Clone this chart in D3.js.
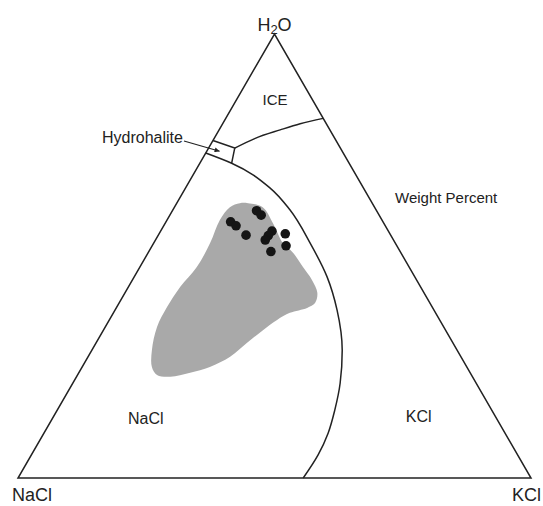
<!DOCTYPE html>
<html>
<head>
<meta charset="utf-8">
<script src="https://cdn.jsdelivr.net/npm/d3@7"></script>
<style>
  body { margin: 0; background: #fff; }
  text { font-family: "Liberation Sans", Arial, sans-serif; fill: #222; }
</style>
</head>
<body>
<div id="chart"></div>
<script>
// ternary data, weight percent [H2O, NaCl, KCl]
var corners = ["NaCl", "KCl", "H2O"];

var iceCurve = [
    [74.3, 20.6, 5.1], [76.5, 15.5, 8.0], [78.4, 9.7, 11.9],
    [79.8, 5.1, 15.1], [81.0, 0.0, 19.0]
];

var hydrohaliteBox = [
    [73.2, 26.8, 0.0], [76.0, 24.0, 0.0], [74.3, 20.6, 5.1], [70.9, 22.9, 6.2]
];

var saltCurve = [
    [73.2, 26.8, 0.0], [70.9, 22.9, 6.2], [65.3, 18.2, 16.5], [60.4, 16.8, 22.8],
    [52.9, 16.6, 30.5], [45.3, 17.1, 37.6], [37.8, 18.9, 43.3], [28.8, 22.4, 48.8],
    [21.4, 26.5, 52.1], [15.3, 30.6, 54.1], [10.1, 34.5, 55.4], [5.2, 38.9, 55.9],
    [0.0, 44.4, 55.6]
];

var inclusionField = [
    [61.9, 24.2, 13.9], [61.0, 21.8, 17.2], [57.4, 21.6, 21.0], [52.9, 21.9, 25.2],
    [50.7, 21.0, 28.3], [47.5, 20.7, 31.8], [44.6, 20.4, 35.0], [41.7, 20.8, 37.5],
    [39.4, 22.4, 38.2], [38.3, 24.5, 37.2], [37.2, 28.4, 34.4], [35.6, 31.7, 32.7],
    [33.3, 35.6, 31.1], [30.4, 40.2, 29.4], [27.3, 45.0, 27.7], [25.0, 50.1, 24.9],
    [23.7, 54.6, 21.7], [22.8, 58.9, 18.3], [23.2, 61.3, 15.5], [25.0, 61.4, 13.6],
    [28.8, 59.5, 11.7], [34.0, 55.9, 10.1], [38.5, 51.7, 9.8], [43.0, 46.9, 10.1],
    [47.5, 41.4, 11.1], [52.9, 36.1, 11.0], [58.1, 31.6, 10.3], [61.0, 28.2, 10.8],
    [61.9, 25.8, 12.3]
];

var samples = [
    [57.7, 29.7, 12.6], [56.8, 29.1, 14.1], [60.2, 23.4, 16.4], [59.2, 23.0, 17.8],
    [54.7, 28.2, 17.1], [55.6, 22.7, 21.7], [54.6, 23.9, 21.5], [53.6, 25.0, 21.4],
    [55.0, 20.4, 24.6], [52.3, 21.6, 26.1], [51.0, 25.2, 23.8]
];

var svgWidth = 543;
var svgHeight = 506;

var svg = d3.select("#chart")
    .append("svg")
    .attr("width", svgWidth)
    .attr("height", svgHeight);

// base along x (KCl share + half the H2O share), height by H2O share
var x = d3.scaleLinear().domain([0, 100]).range([18, 531]);
var y = d3.scaleLinear().domain([0, 100]).range([478, 34]);

function project(d) {
    return [x(d[2] + d[0] / 2), y(d[0])];
}

var ink = "#222";

// gray field
svg.append("path")
    .datum(inclusionField)
    .attr("d", d3.line().x(d => project(d)[0]).y(d => project(d)[1]).curve(d3.curveCatmullRomClosed))
    .attr("fill", "#a9a9a9")
    .attr("stroke", "none");

// triangle
var vertices = [[0, 100, 0], [0, 0, 100], [100, 0, 0]];
svg.append("path")
    .datum(vertices)
    .attr("d", d3.line().x(d => project(d)[0]).y(d => project(d)[1]).curve(d3.curveLinearClosed))
    .attr("fill", "none")
    .attr("stroke", ink)
    .attr("stroke-width", 1.5)
    .attr("stroke-linejoin", "miter");

svg.append("path")
    .datum(saltCurve)
    .attr("d", d3.line().x(d => project(d)[0]).y(d => project(d)[1]).curve(d3.curveMonotoneY))
    .attr("fill", "none")
    .attr("stroke", ink)
    .attr("stroke-width", 1.5);

svg.append("path")
    .datum(iceCurve)
    .attr("d", d3.line().x(d => project(d)[0]).y(d => project(d)[1]).curve(d3.curveMonotoneX))
    .attr("fill", "none")
    .attr("stroke", ink)
    .attr("stroke-width", 1.5);

svg.append("path")
    .datum(hydrohaliteBox.slice(1))
    .attr("d", d3.line().x(d => project(d)[0]).y(d => project(d)[1]))
    .attr("fill", "none")
    .attr("stroke", ink)
    .attr("stroke-width", 1.5);

// sample points
svg.append("g")
    .selectAll("circle")
    .data(samples)
    .enter()
    .append("circle")
    .attr("cx", d => project(d)[0])
    .attr("cy", d => project(d)[1])
    .attr("r", 4.8)
    .attr("fill", "#151515");

// corner labels
var nacl = project(vertices[0]), kcl = project(vertices[1]), h2o = project(vertices[2]);

svg.append("text").attr("x", nacl[0] - 6).attr("y", 501)
    .style("font-size", "18px").text(corners[0]);
svg.append("text").attr("x", kcl[0] - 19).attr("y", 501)
    .style("font-size", "18px").text(corners[1]);

var apexLabel = svg.append("text").attr("x", h2o[0]).attr("y", 31)
    .attr("text-anchor", "middle").style("font-size", "18px");
apexLabel.append("tspan").text("H");
apexLabel.append("tspan").attr("dy", 3).style("font-size", "13px").text("2");
apexLabel.append("tspan").attr("dy", -3).text("O");

// field labels
function label(pos, txt, size) {
    var p = project(pos);
    svg.append("text").attr("x", p[0]).attr("y", p[1])
        .attr("text-anchor", "middle").style("font-size", size).text(txt);
}
label([84, 7.9, 8.1], "ICE", "15px");
label([12.2, 69, 18.8], "NaCl", "16px");
label([12.6, 15.6, 71.8], "KCl", "16px");

svg.append("text").attr("x", 395).attr("y", 203)
    .style("font-size", "15px").text("Weight Percent");

// hydrohalite leader with arrow
svg.append("defs").append("marker")
    .attr("id", "arrow")
    .attr("viewBox", "0 0 10 10")
    .attr("refX", 10).attr("refY", 5)
    .attr("markerWidth", 7).attr("markerHeight", 5)
    .attr("markerUnits", "userSpaceOnUse")
    .attr("orient", "auto")
    .append("path")
    .attr("d", "M0,0L10,5L0,10Z")
    .attr("fill", ink);

svg.append("text").attr("x", 102).attr("y", 143)
    .style("font-size", "16px").text("Hydrohalite");
var tip = project([73.6, 23.9, 2.5]);
svg.append("line")
    .attr("x1", 184).attr("y1", 141)
    .attr("x2", tip[0]).attr("y2", tip[1])
    .attr("stroke", ink)
    .attr("stroke-width", 1.2)
    .attr("marker-end", "url(#arrow)");
</script>
</body>
</html>
